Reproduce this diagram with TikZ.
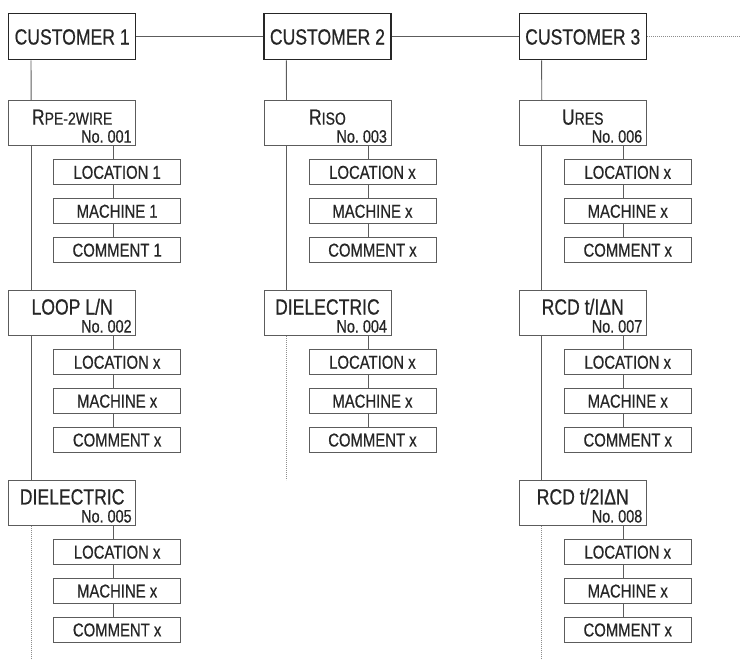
\documentclass[tikz,border=0pt]{standalone}
\usepackage{fontspec}
\setmainfont{Liberation Sans}[FakeStretch=0.8, FakeBold=0.6]
\usetikzlibrary{positioning}
\definecolor{LineGray}{HTML}{5C5C5C}
\definecolor{InkGray}{HTML}{262626}

% title of a measurement, its number right below
\newcommand{\meas}[2]{\parbox{119pt}{\centering\fontsize{22}{18}\selectfont\rule{0pt}{21pt}#1\par
  \raggedleft\fontsize{18}{18}\selectfont No.~#2\par}}
\newcommand{\smallpart}[1]{{\fontsize{17.5}{17.5}\selectfont #1}}

\begin{document}
\begin{tikzpicture}[
	node distance=13pt,
	custbox/.style={draw=InkGray, line width=1.3pt, minimum width=127pt, minimum height=46pt, inner sep=0pt,
		text=InkGray, font=\fontsize{22}{22}\selectfont, text height=15.8pt, text depth=0pt},
	measbox/.style={draw=LineGray, line width=0.9pt, minimum width=127pt, minimum height=45pt, inner sep=0pt, text=InkGray},
	infobox/.style={draw=LineGray, line width=0.9pt, minimum width=127pt, minimum height=25pt, inner sep=0pt,
		text=InkGray, font=\fontsize{18.6}{18.6}\selectfont, text height=13.3pt, text depth=0pt},
	link/.style={draw=LineGray, line width=0.9pt},
	trail/.style={draw=LineGray!70, line width=0.7pt, dash pattern=on 0.8pt off 1.2pt}
]
\useasboundingbox (0,0) rectangle (740pt,-660pt);

\node[custbox, anchor=north west] (cust1) at (8pt,-13pt) {CUSTOMER 1};
\node[custbox, right=127pt of cust1] (cust2) {CUSTOMER 2};
\node[custbox, right=127pt of cust2] (cust3) {CUSTOMER 3};
\coordinate[right=97pt of cust3] (more);

% customer 1
\node[measbox, below=40pt of cust1] (rpe) {\meas{R\smallpart{PE-2WIRE}}{001}};
\node[infobox, below right=13pt and 45pt of rpe.south west] (rpe-loc) {LOCATION 1};
\node[infobox, below=of rpe-loc] (rpe-mach) {MACHINE 1};
\node[infobox, below=of rpe-mach] (rpe-com) {COMMENT 1};

\node[measbox, below=144pt of rpe] (loop) {\meas{LOOP L/N}{002}};
\node[infobox, below right=13pt and 45pt of loop.south west] (loop-loc) {LOCATION x};
\node[infobox, below=of loop-loc] (loop-mach) {MACHINE x};
\node[infobox, below=of loop-mach] (loop-com) {COMMENT x};

\node[measbox, below=144pt of loop] (diel) {\meas{DIELECTRIC}{005}};
\node[infobox, below right=13pt and 45pt of diel.south west] (diel-loc) {LOCATION x};
\node[infobox, below=of diel-loc] (diel-mach) {MACHINE x};
\node[infobox, below=of diel-mach] (diel-com) {COMMENT x};
\coordinate[below=137pt of diel.south west, xshift=23pt] (tail1);

% customer 2
\node[measbox, below=40pt of cust2] (riso) {\meas{R\smallpart{ISO}}{003}};
\node[infobox, below right=13pt and 45pt of riso.south west] (riso-loc) {LOCATION x};
\node[infobox, below=of riso-loc] (riso-mach) {MACHINE x};
\node[infobox, below=of riso-mach] (riso-com) {COMMENT x};

\node[measbox, below=144pt of riso] (dielb) {\meas{DIELECTRIC}{004}};
\node[infobox, below right=13pt and 45pt of dielb.south west] (dielb-loc) {LOCATION x};
\node[infobox, below=of dielb-loc] (dielb-mach) {MACHINE x};
\node[infobox, below=of dielb-mach] (dielb-com) {COMMENT x};
\coordinate[below=144pt of dielb.south west, xshift=23pt] (tail2);

% customer 3
\node[measbox, below=40pt of cust3] (ures) {\meas{U\smallpart{RES}}{006}};
\node[infobox, below right=13pt and 45pt of ures.south west] (ures-loc) {LOCATION x};
\node[infobox, below=of ures-loc] (ures-mach) {MACHINE x};
\node[infobox, below=of ures-mach] (ures-com) {COMMENT x};

\node[measbox, below=144pt of ures] (rcda) {\meas{RCD t/IΔN}{007}};
\node[infobox, below right=13pt and 45pt of rcda.south west] (rcda-loc) {LOCATION x};
\node[infobox, below=of rcda-loc] (rcda-mach) {MACHINE x};
\node[infobox, below=of rcda-mach] (rcda-com) {COMMENT x};

\node[measbox, below=144pt of rcda] (rcdb) {\meas{RCD t/2IΔN}{008}};
\node[infobox, below right=13pt and 45pt of rcdb.south west] (rcdb-loc) {LOCATION x};
\node[infobox, below=of rcdb-loc] (rcdb-mach) {MACHINE x};
\node[infobox, below=of rcdb-mach] (rcdb-com) {COMMENT x};
\coordinate[below=137pt of rcdb.south west, xshift=23pt] (tail3);

% customers in a row
\draw[link] (cust1) -- (cust2);
\draw[link] (cust2) -- (cust3);
\draw[trail] (cust3) -- (more);

% trunks
\draw[link] ([xshift=23pt]cust1.south west) -- ([xshift=23pt]rpe.north west);
\draw[link] ([xshift=23pt]rpe.south west) -- ([xshift=23pt]loop.north west);
\draw[link] ([xshift=23pt]loop.south west) -- ([xshift=23pt]diel.north west);
\draw[trail] ([xshift=23pt]diel.south west) -- (tail1);
\draw[link] ([xshift=23pt]cust2.south west) -- ([xshift=23pt]riso.north west);
\draw[link] ([xshift=23pt]riso.south west) -- ([xshift=23pt]dielb.north west);
\draw[trail] ([xshift=23pt]dielb.south west) -- (tail2);
\draw[link] ([xshift=23pt]cust3.south west) -- ([xshift=23pt]ures.north west);
\draw[link] ([xshift=23pt]ures.south west) -- ([xshift=23pt]rcda.north west);
\draw[link] ([xshift=23pt]rcda.south west) -- ([xshift=23pt]rcdb.north west);
\draw[trail] ([xshift=23pt]rcdb.south west) -- (tail3);

% location, machine, comment under each measurement
\foreach \m in {rpe,loop,diel,riso,dielb,ures,rcda,rcdb} {
	\draw[link] ([xshift=105pt]\m.south west) -- ([xshift=60pt]\m-loc.north west);
	\draw[link] ([xshift=60pt]\m-loc.south west) -- ([xshift=60pt]\m-mach.north west);
	\draw[link] ([xshift=60pt]\m-mach.south west) -- ([xshift=60pt]\m-com.north west);
}
\end{tikzpicture}
\end{document}
